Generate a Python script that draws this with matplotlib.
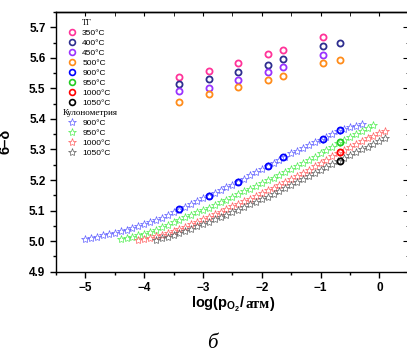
import matplotlib
matplotlib.use("Agg")
import matplotlib.pyplot as plt
from matplotlib.lines import Line2D
from matplotlib.offsetbox import TextArea, HPacker, AnnotationBbox
from matplotlib.ticker import MultipleLocator

plt.rcParams['font.family'] = ['Liberation Sans', 'DejaVu Sans']
plt.rcParams['mathtext.fontset'] = 'custom'
plt.rcParams['mathtext.rm'] = 'Liberation Sans:bold'
plt.rcParams['mathtext.it'] = 'Liberation Sans:bold'
plt.rcParams['mathtext.bf'] = 'Liberation Sans:bold'
plt.rcParams['axes.linewidth'] = 1.0

# ТГ (open circles)
tg_x = [-3.41, -2.90, -2.40, -1.89, -1.64, -0.96, -0.67]
tg_350 = [5.538, 5.558, 5.582, 5.612, 5.626, 5.668]
tg_400 = [5.514, 5.531, 5.554, 5.578, 5.596, 5.639, 5.649]
tg_450 = [5.492, 5.501, 5.528, 5.552, 5.569, 5.610]
tg_500 = [5.454, 5.480, 5.503, 5.529, 5.540, 5.583, 5.594]
tg_900 = [5.105, 5.149, 5.195, 5.246, 5.274, 5.335, 5.363]
tg_hi_x = [-0.67]
tg_950 = [5.323]
tg_1000 = [5.291]
tg_1050 = [5.263]

# Кулонометрия (stars)
k900_x = [-5.0, -4.9, -4.8, -4.7, -4.6, -4.5, -4.4, -4.3, -4.2, -4.1, -4.0, -3.9,
          -3.8, -3.7, -3.6, -3.5, -3.4, -3.3, -3.2, -3.1, -3.0, -2.9, -2.8, -2.7,
          -2.6, -2.5, -2.4, -2.3, -2.2, -2.1, -2.0, -1.9, -1.8, -1.7, -1.6, -1.5,
          -1.4, -1.3, -1.2, -1.1, -1.0, -0.9, -0.8, -0.7, -0.6, -0.5, -0.4, -0.3]
k900_y = [5.008, 5.011, 5.015, 5.019, 5.023, 5.028, 5.033, 5.038, 5.043, 5.049, 5.055, 5.062,
          5.069, 5.077, 5.085, 5.094, 5.103, 5.112, 5.121, 5.130, 5.140, 5.149, 5.158, 5.167,
          5.176, 5.185, 5.195, 5.205, 5.215, 5.225, 5.235, 5.245, 5.256, 5.267, 5.277, 5.287,
          5.296, 5.305, 5.314, 5.323, 5.332, 5.341, 5.350, 5.359, 5.366, 5.372, 5.378, 5.383]
k950_x = [-4.4, -4.3, -4.2, -4.1, -4.0, -3.9, -3.8, -3.7, -3.6, -3.5, -3.4, -3.3,
          -3.2, -3.1, -3.0, -2.9, -2.8, -2.7, -2.6, -2.5, -2.4, -2.3, -2.2, -2.1,
          -2.0, -1.9, -1.8, -1.7, -1.6, -1.5, -1.4, -1.3, -1.2, -1.1, -1.0, -0.9,
          -0.8, -0.7, -0.6, -0.5, -0.4, -0.3, -0.2, -0.1]
k950_y = [5.006, 5.010, 5.015, 5.020, 5.025, 5.031, 5.038, 5.046, 5.054, 5.062, 5.070, 5.078,
          5.086, 5.094, 5.102, 5.110, 5.119, 5.127, 5.136, 5.145, 5.154, 5.163, 5.172, 5.181,
          5.190, 5.199, 5.208, 5.218, 5.227, 5.237, 5.246, 5.256, 5.266, 5.277, 5.288, 5.298,
          5.309, 5.320, 5.330, 5.340, 5.350, 5.360, 5.370, 5.379]
k1000_x = [-4.1, -4.0, -3.9, -3.8, -3.7, -3.6, -3.5, -3.4, -3.3, -3.2, -3.1, -3.0,
           -2.9, -2.8, -2.7, -2.6, -2.5, -2.4, -2.3, -2.2, -2.1, -2.0, -1.9, -1.8,
           -1.7, -1.6, -1.5, -1.4, -1.3, -1.2, -1.1, -1.0, -0.9, -0.8, -0.7, -0.6,
           -0.5, -0.4, -0.3, -0.2, -0.1, 0.0, 0.1]
k1000_y = [5.003, 5.007, 5.011, 5.016, 5.021, 5.027, 5.033, 5.040, 5.047, 5.055, 5.063, 5.071,
           5.080, 5.088, 5.097, 5.106, 5.114, 5.122, 5.131, 5.139, 5.148, 5.157, 5.166, 5.175,
           5.184, 5.193, 5.203, 5.213, 5.223, 5.234, 5.245, 5.256, 5.267, 5.278, 5.289, 5.299,
           5.309, 5.318, 5.327, 5.336, 5.345, 5.354, 5.362]
k1050_x = [-3.8, -3.7, -3.6, -3.5, -3.4, -3.3, -3.2, -3.1, -3.0, -2.9, -2.8, -2.7,
           -2.6, -2.5, -2.4, -2.3, -2.2, -2.1, -2.0, -1.9, -1.8, -1.7, -1.6, -1.5,
           -1.4, -1.3, -1.2, -1.1, -1.0, -0.9, -0.8, -0.7, -0.6, -0.5, -0.4, -0.3,
           -0.2, -0.1, 0.0, 0.1]
k1050_y = [5.005, 5.010, 5.015, 5.021, 5.027, 5.034, 5.041, 5.049, 5.056, 5.064, 5.071, 5.079,
           5.087, 5.095, 5.103, 5.111, 5.120, 5.128, 5.137, 5.146, 5.155, 5.164, 5.173, 5.183,
           5.192, 5.202, 5.212, 5.222, 5.232, 5.242, 5.252, 5.262, 5.272, 5.281, 5.291, 5.300,
           5.309, 5.318, 5.327, 5.336]

fig = plt.figure(figsize=(4.07, 3.54), dpi=100)
ax = fig.add_axes([0.1376, 0.2325, 0.8666, 0.7336])

star = dict(ls='none', marker='*', mfc='none', ms=6, mew=0.5)
ax.plot(k900_x, k900_y, mec='#6060ff', **star)
ax.plot(k950_x, k950_y, mec='#50ee50', **star)
ax.plot(k1000_x, k1000_y, mec='#ff6060', **star)
ax.plot(k1050_x, k1050_y, mec='#606060', **star)

circ = dict(ls='none', marker='o', mfc='none', ms=4.4, mew=1.3)
ax.plot(tg_x[:6], tg_350, mec='#ff3399', **circ)
ax.plot(tg_x, tg_400, mec='#2e2e8f', **circ)
ax.plot(tg_x[:6], tg_450, mec='#9933ff', **circ)
ax.plot(tg_x, tg_500, mec='#ff8c1a', **circ)
ax.plot(tg_x, tg_900, mec='#0000ff', **circ)
ax.plot(tg_hi_x, tg_950, mec='#22cc22', **circ)
ax.plot(tg_hi_x, tg_1000, mec='#ff0000', **circ)
ax.plot(tg_hi_x, tg_1050, mec='#000000', **circ)

ax.set_xlim(-5.5, 0.5)
ax.set_ylim(4.9, 5.75)
ax.xaxis.set_major_locator(MultipleLocator(1))
ax.xaxis.set_minor_locator(MultipleLocator(0.5))
ax.yaxis.set_major_locator(MultipleLocator(0.1))
ax.yaxis.set_minor_locator(MultipleLocator(0.05))
ax.set_yticks([4.9, 5.0, 5.1, 5.2, 5.3, 5.4, 5.5, 5.6, 5.7])
ax.tick_params(which='major', direction='out', length=4, width=1.0, labelsize=8.5)
ax.tick_params(which='minor', direction='out', length=2.5, width=1.0)
for lab in ax.get_xticklabels() + ax.get_yticklabels():
    lab.set_fontweight('bold')

top = ax.secondary_xaxis('top')
top.xaxis.set_major_locator(MultipleLocator(1))
top.xaxis.set_minor_locator(MultipleLocator(0.5))
top.tick_params(which='both', direction='in', length=3, labeltop=False)
right = ax.secondary_yaxis('right')
right.yaxis.set_major_locator(MultipleLocator(0.1))
right.yaxis.set_minor_locator(MultipleLocator(0.05))
right.tick_params(which='major', direction='in', length=4, labelright=False)
right.tick_params(which='minor', direction='in', length=2, labelright=False)

ax.set_ylabel('6–δ', fontsize=10.5, fontweight='bold')
ax.yaxis.set_label_coords(-0.122, 0.5)

# x label, mixed fonts
xl = HPacker(children=[
    TextArea('log(p$_{\\mathrm{O}_2}$/', textprops=dict(fontsize=10.5, fontweight='bold')),
    TextArea('атм', textprops=dict(fontsize=10.5, fontweight='bold', family='Liberation Serif')),
    TextArea(')', textprops=dict(fontsize=10.5, fontweight='bold')),
], pad=0, sep=0, align='baseline')
ax.add_artist(AnnotationBbox(xl, (0.5, -0.125), xycoords='axes fraction',
                             frameon=False, box_alignment=(0.5, 0.5)))

fig.text(0.521, 0.03, 'б', family='Liberation Serif', style='italic', fontsize=15,
         ha='center', va='center')

# legends
blank = Line2D([], [], ls='none', marker='none')
def c(col):
    return Line2D([], [], ls='none', marker='o', mfc='none', mec=col, ms=4.2, mew=1.2)
def s(col):
    return Line2D([], [], ls='none', marker='*', mfc='none', mec=col, ms=6, mew=0.5)

h1 = [blank, c('#ff3399'), c('#2e2e8f'), c('#9933ff'), c('#ff8c1a'),
      c('#0000ff'), c('#22cc22'), c('#ff0000'), c('#000000')]
l1 = ['ТГ', '350°C', '400°C', '450°C', '500°C', '900°C', '950°C', '1000°C', '1050°C']
leg1 = ax.legend(h1, l1, loc='upper left', bbox_to_anchor=(0.0198, 0.973), frameon=False,
                 fontsize=6, borderpad=0, borderaxespad=0, handlelength=2.1,
                 handletextpad=0.2, labelspacing=0.26, numpoints=1)
leg1.get_texts()[0].set_fontfamily('Liberation Serif')
ax.add_artist(leg1)

h2 = [s('#6060ff'), s('#50ee50'), s('#ff6060'), s('#606060')]
l2 = ['900°C', '950°C', '1000°C', '1050°C']
leg2 = ax.legend(h2, l2, loc='upper left', bbox_to_anchor=(0.0198, 0.625), frameon=False,
                 fontsize=6, borderpad=0, borderaxespad=0, handlelength=2.1,
                 handletextpad=0.2, labelspacing=0.26, numpoints=1,
                 title='Кулонометрия', alignment='left',
                 title_fontproperties=dict(family='Liberation Serif', size=6.5))

fig.savefig('out.png', dpi=100)
